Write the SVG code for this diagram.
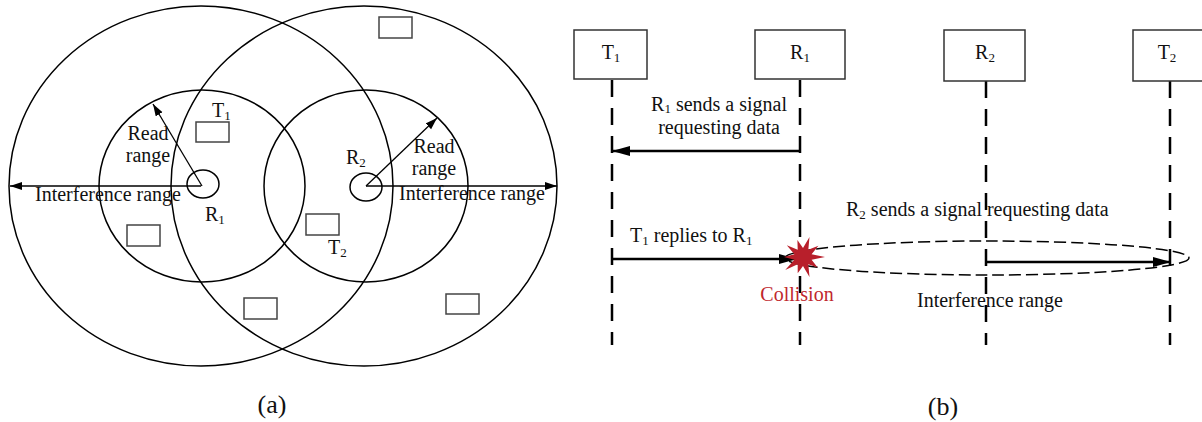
<svg xmlns="http://www.w3.org/2000/svg" width="1202" height="422" viewBox="0 0 1202 422">
<style>
text{font-family:"Liberation Serif","Times New Roman",serif;font-size:20px;fill:#111}
.c{fill:none;stroke:#000;stroke-width:1.5}
.tag{fill:#fff;stroke:#444;stroke-width:1.5}
.box{fill:#fff;stroke:#333;stroke-width:1.5}
.life{stroke:#000;stroke-width:2.5;stroke-dasharray:17 11;fill:none}
.thin{stroke:#000;stroke-width:1.3;fill:none;marker-end:url(#ah)}
.thick{stroke:#000;stroke-width:2.5;fill:none;marker-end:url(#AH)}
.m{text-anchor:middle}
</style>
<defs>
<marker id="ah" markerUnits="userSpaceOnUse" markerWidth="13" markerHeight="9" refX="12" refY="4" orient="auto"><path d="M0,0 L12,4 L0,8 z" fill="#000"/></marker>
<marker id="AH" markerUnits="userSpaceOnUse" markerWidth="19" markerHeight="11" refX="18" refY="5" orient="auto"><path d="M0,0 L18,5 L0,10 z" fill="#000"/></marker>
</defs>
<rect width="1202" height="422" fill="#fff"/>

<!-- panel (a) -->
<g id="ranges">
<ellipse class="c" cx="201" cy="186" rx="192" ry="180"/>
<ellipse class="c" cx="364" cy="186" rx="193" ry="180"/>
<ellipse class="c" cx="202" cy="186" rx="103" ry="96"/>
<ellipse class="c" cx="366" cy="186" rx="102" ry="96"/>
</g>
<g id="reader-R1">
<ellipse class="c" cx="203" cy="184" rx="16" ry="14"/>
<text x="205" y="221">R<tspan font-size="13" dy="3">1</tspan></text>
</g>
<g id="reader-R2">
<ellipse class="c" cx="366" cy="187" rx="16" ry="14"/>
<text x="346" y="164">R<tspan font-size="13" dy="3">2</tspan></text>
</g>
<g id="tag-T1">
<rect class="tag" x="196" y="122" width="33" height="20"/>
<text x="212" y="117">T<tspan font-size="13" dy="3">1</tspan></text>
</g>
<g id="tag-T2">
<rect class="tag" x="306" y="214" width="33" height="21"/>
<text x="328" y="254">T<tspan font-size="13" dy="3">2</tspan></text>
</g>
<g id="tag-a">
<rect class="tag" x="127" y="225" width="33" height="21"/>
</g>
<g id="tag-b">
<rect class="tag" x="244" y="298" width="33" height="21"/>
</g>
<g id="tag-c">
<rect class="tag" x="446" y="294" width="33" height="20"/>
</g>
<g id="tag-d">
<rect class="tag" x="379" y="17" width="33" height="21"/>
</g>
<g id="connectors-a">
<line class="thin" x1="201" y1="186" x2="10" y2="186"/>
<line class="thin" x1="366" y1="186" x2="557" y2="186"/>
<line class="thin" x1="202" y1="186" x2="153" y2="104"/>
<line class="thin" x1="366" y1="186" x2="437" y2="118"/>
</g>
<g id="labels-a">
<text class="m" x="148" y="140">Read<tspan x="148" dy="22">range</tspan></text>
<text class="m" x="434" y="153">Read<tspan x="434" dy="22">range</tspan></text>
<text x="35" y="201">Interference range</text>
<text x="399" y="200">Interference range</text>
<text class="m" x="272" y="413" style="font-size:26px">(a)</text>
</g>

<!-- panel (b) -->
<g id="lifelines">
<line class="life" x1="612" y1="80" x2="612" y2="345"/>
<line class="life" x1="800" y1="80" x2="800" y2="345"/>
<line class="life" x1="986" y1="81" x2="986" y2="345"/>
<line class="life" x1="1170" y1="81" x2="1170" y2="345"/>
</g>
<g id="node-T1">
<rect class="box" x="574" y="30" width="73" height="49"/>
<text class="m" x="611" y="59">T<tspan font-size="13" dy="3">1</tspan></text>
</g>
<g id="node-R1">
<rect class="box" x="755" y="30" width="90" height="49"/>
<text class="m" x="800" y="59">R<tspan font-size="13" dy="3">1</tspan></text>
</g>
<g id="node-R2">
<rect class="box" x="944" y="30" width="81" height="51"/>
<text class="m" x="985" y="59">R<tspan font-size="13" dy="3">2</tspan></text>
</g>
<g id="node-T2">
<rect class="box" x="1133" y="30" width="81" height="51"/>
<text class="m" x="1167" y="59">T<tspan font-size="13" dy="3">2</tspan></text>
</g>
<g id="connectors-b">
<ellipse cx="987" cy="258" rx="202" ry="17" fill="none" stroke="#000" stroke-width="1.5" stroke-dasharray="12 5"/>
<line class="thick" x1="800" y1="151" x2="612" y2="151"/>
<line class="thick" x1="612" y1="259" x2="797" y2="259"/>
<line class="thick" x1="986" y1="262" x2="1171" y2="262"/>
</g>
<g id="collision">
<polygon fill="#b81f2b" points="825,257 811.6,259.8 817.6,267.6 808.3,264.3 809.5,277 803,266 797.7,273.2 797.7,264.3 785.2,269.9 794.4,259.8 784,257 794.4,254.2 786.8,245.2 797.7,249.7 797.4,239.9 803,248 809.5,237 808.3,249.7 818.4,245.8 811.6,254.2"/>
<text class="m" x="797" y="301" style="fill:#c0272d">Collision</text>
</g>
<g id="labels-b">
<text class="m" x="719" y="111">R<tspan font-size="13" dy="2">1</tspan><tspan dy="-2"> sends a signal</tspan><tspan x="719" dy="23">requesting data</tspan></text>
<text x="630" y="242">T<tspan font-size="13" dy="3">1</tspan><tspan dy="-3"> replies to R</tspan><tspan font-size="13" dy="3">1</tspan></text>
<text x="846" y="216">R<tspan font-size="13" dy="3">2</tspan><tspan dy="-3"> sends a signal requesting data</tspan></text>
<text class="m" x="990" y="307">Interference range</text>
<text class="m" x="943" y="415" style="font-size:26px">(b)</text>
</g>
</svg>
